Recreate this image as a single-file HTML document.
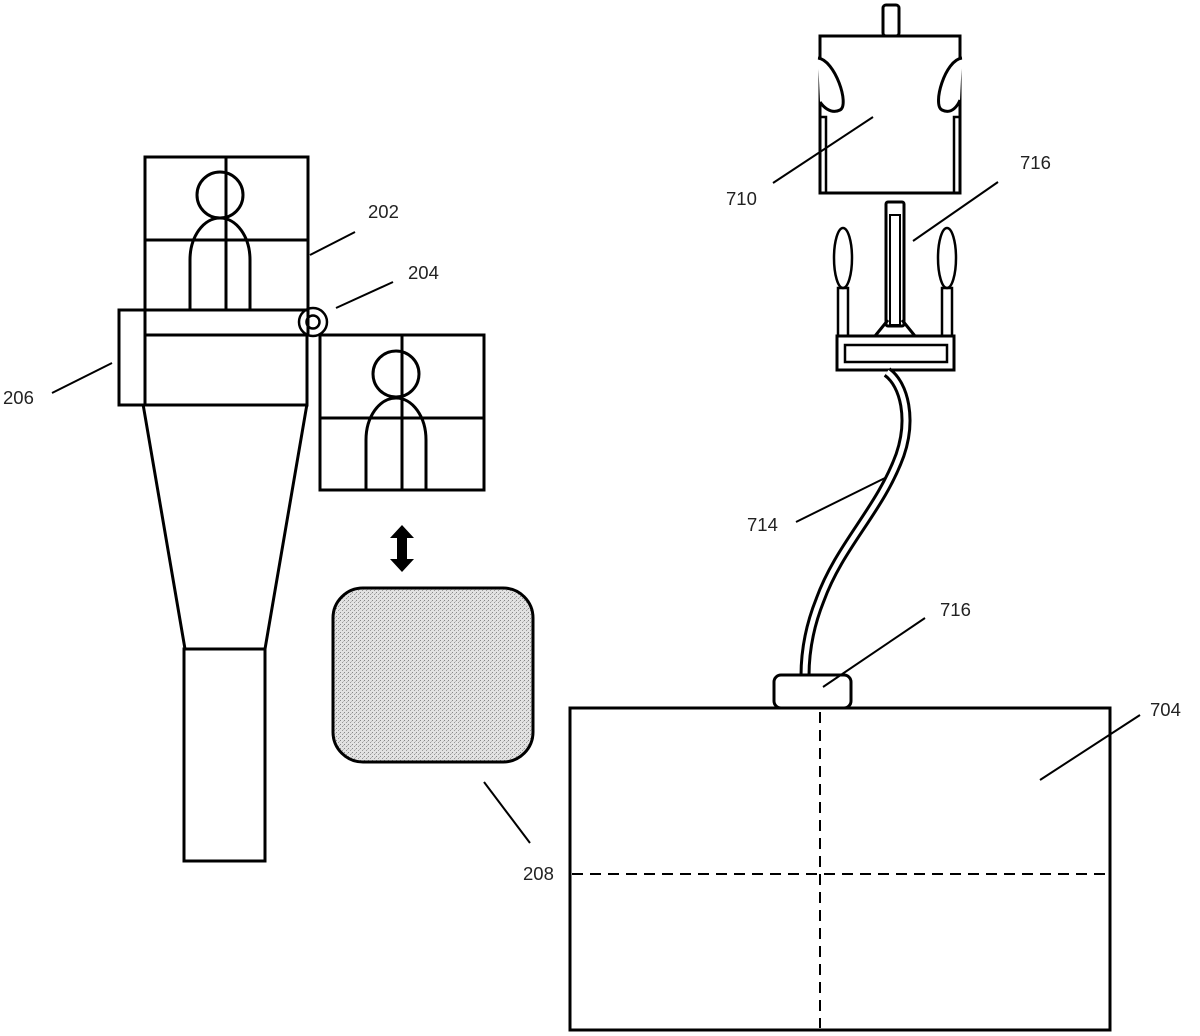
<!DOCTYPE html>
<html><head><meta charset="utf-8"><style>html,body{margin:0;padding:0;background:#fff}svg{display:block}text{font-family:"Liberation Sans",sans-serif;font-size:18.5px;fill:#222}</style></head>
<body>
<svg width="1200" height="1036" viewBox="0 0 1200 1036" xmlns="http://www.w3.org/2000/svg">
<defs>
<pattern id="st" width="4" height="4" patternUnits="userSpaceOnUse">
<rect width="4" height="4" fill="#e2e2e2"/><rect x="0" y="0" width="1" height="1" fill="#888"/><rect x="2" y="2" width="1" height="1" fill="#999"/><rect x="3" y="1" width="1" height="1" fill="#bbb"/>
</pattern>
</defs>
<g fill="none" stroke="#000" stroke-width="3">
<!-- monitor 202 -->
<rect x="145" y="157" width="163" height="153"/>
<line x1="145" y1="240" x2="308" y2="240"/>
<line x1="226" y1="157" x2="226" y2="310"/>
<circle cx="220" cy="195" r="23"/>
<path d="M190 310 V260 A30 42 0 0 1 250 260 V310"/>
<!-- body -->
<rect x="145" y="310" width="163" height="25"/>
<rect x="145" y="335" width="162" height="70"/>
<rect x="119" y="310" width="26" height="95"/>
<path d="M143 404 L185 649 L265 649 L307 404"/>
<rect x="184" y="649" width="81" height="212"/>
<!-- hinge -->
<circle cx="313" cy="322" r="14" stroke-width="2.5"/>
<circle cx="313" cy="322" r="6.5" stroke-width="2.5"/>
<!-- monitor 2 -->
<rect x="320" y="335" width="164" height="155"/>
<line x1="320" y1="418" x2="484" y2="418"/>
<line x1="402" y1="335" x2="402" y2="490"/>
<circle cx="396" cy="374" r="23"/>
<path d="M366 490 V440 A30 42 0 0 1 426 440 V490"/>
<!-- 208 -->
<rect x="333" y="588" width="200" height="174" rx="30" fill="url(#st)"/>
<!-- 710 -->
<rect x="883" y="5" width="16" height="31" rx="3"/>
<path d="M820 193 V36 H960 V193 Z"/>
<path d="M818 58 C835 60 850 105 840 110 C830 115 822 105 820 102" fill="#fff"/>
<path d="M962 58 C945 60 932 105 942 110 C952 115 958 105 960 100" fill="#fff"/>
<rect x="820" y="117" width="6" height="76" stroke-width="2.5"/>
<rect x="954" y="117" width="6" height="76" stroke-width="2.5"/>
<!-- 716 top connector -->
<rect x="886" y="202" width="18" height="124" rx="2"/>
<rect x="890" y="215" width="10" height="110" stroke-width="2"/>
<path d="M875 336 L888 320 M915 336 L902 320"/>
<ellipse cx="843" cy="258" rx="9" ry="30" stroke-width="2.5"/>
<ellipse cx="947" cy="258" rx="9" ry="30" stroke-width="2.5"/>
<rect x="838" y="288" width="10" height="48" stroke-width="2.5"/>
<rect x="942" y="288" width="10" height="48" stroke-width="2.5"/>
<rect x="837" y="336" width="117" height="34"/>
<rect x="845" y="345" width="102" height="17" stroke-width="2.5"/>
<!-- cable -->
<path d="M887 372 C905 385 912 420 900 455 C880 510 840 545 820 600 C808 630 805 655 805 676" stroke-width="11"/>
<path d="M887 372 C905 385 912 420 900 455 C880 510 840 545 820 600 C808 630 805 655 805 676" stroke="#fff" stroke-width="5"/>
<rect x="774" y="675" width="77" height="33" rx="7" fill="#fff"/>
<!-- 704 -->
<rect x="570" y="708" width="540" height="322"/>
<line x1="820" y1="712" x2="820" y2="1028" stroke-width="2" stroke-dasharray="11,7"/>
<line x1="572" y1="874" x2="1108" y2="874" stroke-width="2" stroke-dasharray="11,7"/>
</g>
<!-- double arrow -->
<path d="M402 525 L414 538 H407 V559 H414 L402 572 L390 559 H397 V538 H390 Z" fill="#000"/>
<!-- leaders -->
<g stroke="#000" stroke-width="2">
<line x1="310" y1="255" x2="355" y2="232"/>
<line x1="336" y1="308" x2="393" y2="282"/>
<line x1="52" y1="393" x2="112" y2="363"/>
<line x1="484" y1="782" x2="530" y2="843"/>
<line x1="773" y1="183" x2="873" y2="117"/>
<line x1="913" y1="241" x2="998" y2="182"/>
<line x1="796" y1="522" x2="885" y2="478"/>
<line x1="823" y1="687" x2="925" y2="618"/>
<line x1="1040" y1="780" x2="1140" y2="715"/>
</g>
<text x="368" y="218">202</text>
<text x="408" y="279">204</text>
<text x="3" y="404">206</text>
<text x="523" y="880">208</text>
<text x="726" y="205">710</text>
<text x="1020" y="169">716</text>
<text x="747" y="531">714</text>
<text x="940" y="616">716</text>
<text x="1150" y="716">704</text>
</svg>
</body></html>
